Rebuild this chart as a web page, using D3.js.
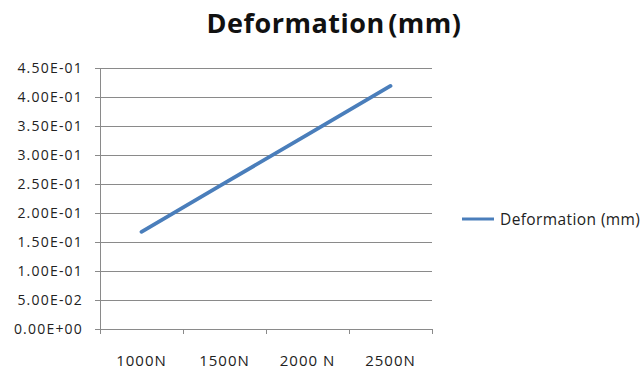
<!DOCTYPE html>
<html>
<head>
<meta charset="utf-8">
<script src="https://cdn.jsdelivr.net/npm/d3@7"></script>
<style>
  html, body { margin: 0; padding: 0; background: #fff; }
  svg { display: block; font-family: "Open Sans", Lato, sans-serif; }
</style>
</head>
<body>
<svg id="chart" width="641" height="371"></svg>
<script>
// Load steps and the measured deformation at each one
const categories = ["1000N", "1500N", "2000 N", "2500N"];
const deformation = [0.1676, 0.2514, 0.3352, 0.419];
const yTicks = [0, 0.05, 0.1, 0.15, 0.2, 0.25, 0.3, 0.35, 0.4, 0.45];
const seriesName = "Deformation (mm)";
const titleText = "Deformation (mm)";

const svg = d3.select("#chart");
const margin = { left: 100, right: 432, top: 68, bottom: 329 };

const x = d3.scaleBand().domain(categories).range([margin.left, margin.right]);
const y = d3.scaleLinear().domain([0, 0.45]).range([margin.bottom, margin.top]);

// Title
svg.append("text")
  .attr("x", 334).attr("y", 33)
  .attr("text-anchor", "middle")
  .attr("font-size", 27).attr("font-weight", "bold")
  .attr("letter-spacing", 0.5).attr("word-spacing", -4)
  .attr("fill", "#111")
  .text(titleText);

// Horizontal gridlines
svg.append("g").selectAll("line").data(yTicks).join("line")
  .attr("x1", margin.left).attr("x2", margin.right)
  .attr("y1", d => y(d)).attr("y2", d => y(d))
  .attr("stroke", "#8a8a8a").attr("stroke-width", 1)
  .attr("shape-rendering", "crispEdges");

// Y axis
const yAxis = d3.axisLeft(y).tickValues(yTicks)
  .tickFormat(d => d3.format(".2e")(d).toUpperCase().replace(/E([+-])(\d)$/, "E$10$2"))
  .tickSize(5).tickPadding(12);
svg.append("g").attr("transform", `translate(${margin.left},0)`).call(yAxis)
  .call(g => g.select(".domain").attr("stroke", "#8a8a8a"))
  .call(g => g.selectAll(".tick line").attr("stroke", "#8a8a8a"))
  .call(g => g.selectAll("text").attr("font-size", 14).attr("fill", "#222")
    .attr("letter-spacing", 1.2)
    .attr("font-family", "'Open Sans', Lato, sans-serif"));

// X axis with ticks at category boundaries
const xAxisG = svg.append("g").attr("transform", `translate(0,${margin.bottom})`);
xAxisG.append("line")
  .attr("x1", margin.left).attr("x2", margin.right)
  .attr("stroke", "#8a8a8a").attr("shape-rendering", "crispEdges");
const bounds = categories.map(c => x(c)).concat([x(categories[categories.length - 1]) + x.bandwidth()]);
xAxisG.selectAll("line.tk").data(bounds).join("line").attr("class", "tk")
  .attr("x1", d => d).attr("x2", d => d).attr("y1", 0).attr("y2", 5)
  .attr("stroke", "#8a8a8a").attr("shape-rendering", "crispEdges");
xAxisG.selectAll("text").data(categories).join("text")
  .attr("x", d => x(d) + x.bandwidth() / 2).attr("y", 37)
  .attr("text-anchor", "middle").attr("font-size", 15)
  .attr("letter-spacing", 1).attr("fill", "#222")
  .text(d => d);

// Series line
const line = d3.line()
  .x((d, i) => x(categories[i]) + x.bandwidth() / 2)
  .y(d => y(d));
svg.append("path").datum(deformation)
  .attr("d", line)
  .attr("fill", "none").attr("stroke", "#4a7ebb")
  .attr("stroke-width", 3.8).attr("stroke-linecap", "round");

// Legend
const lg = svg.append("g").attr("transform", "translate(462,219)");
lg.append("line").attr("x1", 0).attr("x2", 32)
  .attr("stroke", "#4a7ebb").attr("stroke-width", 3);
lg.append("text").attr("x", 38).attr("y", 6)
  .attr("font-size", 15.5).attr("letter-spacing", 0.4)
  .attr("fill", "#222").text(seriesName);
</script>
</body>
</html>
